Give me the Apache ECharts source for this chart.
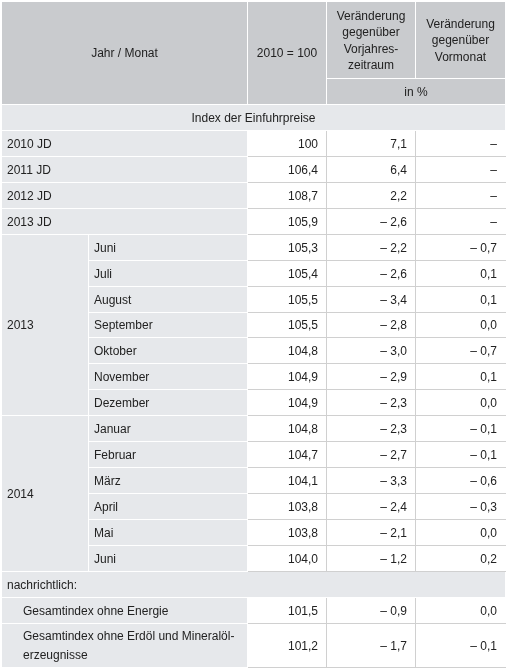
<!DOCTYPE html>
<html><head><meta charset="utf-8">
<script src="https://cdn.jsdelivr.net/npm/echarts@6/dist/echarts.min.js"></script>
<style>html,body{margin:0;padding:0;background:#fff}#c{width:509px;height:668px}</style>
</head><body><div id="c"></div>
<script>
// ---- data ----
const headerCol0 = 'Jahr / Monat';
const headerCol1 = '2010 = 100';
const headerCol2 = 'Veränderung\ngegenüber\nVorjahres-\nzeitraum';
const headerCol3 = 'Veränderung\ngegenüber\nVormonat';
const headerUnit = 'in %';
const sectionTitle = 'Index der Einfuhrpreise';

const annualLabels = ['2010 JD', '2011 JD', '2012 JD', '2013 JD'];
const annualIndex = [100, 106.4, 108.7, 105.9];
const annualYoY = [7.1, 6.4, 2.2, -2.6];
const annualMoM = [null, null, null, null];

const block1Year = '2013';
const block1Months = ['Juni', 'Juli', 'August', 'September', 'Oktober', 'November', 'Dezember'];
const block1Index = [105.3, 105.4, 105.5, 105.5, 104.8, 104.9, 104.9];
const block1YoY = [-2.2, -2.6, -3.4, -2.8, -3.0, -2.9, -2.3];
const block1MoM = [-0.7, 0.1, 0.1, 0.0, -0.7, 0.1, 0.0];

const block2Year = '2014';
const block2Months = ['Januar', 'Februar', 'März', 'April', 'Mai', 'Juni'];
const block2Index = [104.8, 104.7, 104.1, 103.8, 103.8, 104.0];
const block2YoY = [-2.3, -2.7, -3.3, -2.4, -2.1, -1.2];
const block2MoM = [-0.1, -0.1, -0.6, -0.3, 0.0, 0.2];

const memoTitle = 'nachrichtlich:';
const memoLabels = ['Gesamtindex ohne Energie', 'Gesamtindex ohne Erdöl und Mineralöl-\nerzeugnisse'];
const memoIndex = [101.5, 101.2];
const memoYoY = [-0.9, -1.7];
const memoMoM = [0.0, -0.1];

// ---- layout ----
const colEdges = [0, 87, 246, 325, 414, 504];
const UNIT = 26;
const H1 = 77 / UNIT;
const LAST_H = 44 / UNIT;
const HEAD_BG = '#c9cbce', LABEL_BG = '#e6e8eb', LINE = '#d0d0d0', TEXT = '#222222';
const FONT = '12px "Liberation Sans", Arial, Helvetica, sans-serif';

function fmt(v) {
  if (v === null || v === undefined) return '–';
  const s = Math.abs(v).toFixed(1).replace('.', ',');
  return v < 0 ? '– ' + s : s;
}
function fmtIndex(v) { return v === 100 ? '100' : fmt(v); }

const grayCells = [], whiteCells = [];
function cell(c0, c1, y0, y1, kind, text, align, pad, lh) {
  const o = { x0: colEdges[c0], x1: colEdges[c1], y0, y1, kind, text, align: align || 'left', pad: pad == null ? 5 : pad, lh: lh || 14 };
  (kind === 'white' ? whiteCells : grayCells).push(o);
}

// header
cell(0, 2, 0, H1 + 1, 'head', headerCol0, 'center');
cell(2, 3, 0, H1 + 1, 'head', headerCol1, 'center');
cell(3, 4, 0, H1, 'head', headerCol2, 'center', 0, 16.5);
cell(4, 5, 0, H1, 'head', headerCol3, 'center', 0, 16.5);
cell(3, 5, H1, H1 + 1, 'head', headerUnit, 'center');
cell(0, 5, H1 + 1, H1 + 2, 'label', sectionTitle, 'center');

let r = H1 + 2;
function valueCells(row, h, idx, yoy, mom) {
  cell(2, 3, row, row + h, 'white', fmtIndex(idx), 'right', 9);
  cell(3, 4, row, row + h, 'white', fmt(yoy), 'right', 9);
  cell(4, 5, row, row + h, 'white', fmt(mom), 'right', 9);
}
annualLabels.forEach((lab, i) => {
  cell(0, 2, r, r + 1, 'label', lab, 'left', 5);
  valueCells(r, 1, annualIndex[i], annualYoY[i], annualMoM[i]);
  r += 1;
});
function block(year, months, idx, yoy, mom) {
  cell(0, 1, r, r + months.length, 'label', year, 'left', 5);
  months.forEach((m, i) => {
    cell(1, 2, r, r + 1, 'label', m, 'left', 5);
    valueCells(r, 1, idx[i], yoy[i], mom[i]);
    r += 1;
  });
}
block(block1Year, block1Months, block1Index, block1YoY, block1MoM);
block(block2Year, block2Months, block2Index, block2YoY, block2MoM);
cell(0, 5, r, r + 1, 'label', memoTitle, 'left', 5);
r += 1;
memoLabels.forEach((lab, i) => {
  const h = i === memoLabels.length - 1 ? LAST_H : 1;
  cell(0, 2, r, r + h, 'label', lab, 'left', 21, 19);
  valueCells(r, h, memoIndex[i], memoYoY[i], memoMoM[i]);
  r += h;
});
const yMax = r;
const cells = grayCells.concat(whiteCells);

const chart = echarts.init(document.getElementById('c'), null, { renderer: 'canvas' });
chart.setOption({
  animation: false,
  grid: { left: 2, top: 2, width: 504, height: yMax * UNIT },
  xAxis: { type: 'value', min: 0, max: 504, show: false },
  yAxis: { type: 'value', min: 0, max: yMax, inverse: true, show: false },
  series: [{
    type: 'custom',
    silent: true,
    clip: false,
    data: cells.map((c, i) => [c.x0, c.y0, c.x1, c.y1, i]),
    encode: { x: [0, 2], y: [1, 3] },
    renderItem: function (params, api) {
      const c = cells[api.value(4)];
      const p0 = api.coord([c.x0, c.y0]);
      const p1 = api.coord([c.x1, c.y1]);
      const x0 = Math.round(p0[0]), y0 = Math.round(p0[1]);
      const x1 = Math.round(p1[0]), y1 = Math.round(p1[1]);
      const children = [];
      if (c.kind === 'white') {
        children.push({ type: 'rect', shape: { x: x0, y: y0, width: x1 - x0, height: y1 - y0 }, style: { fill: '#ffffff' } });
        children.push({ type: 'line', shape: { x1: x0, y1: y1 - 0.5, x2: x1, y2: y1 - 0.5 }, style: { stroke: LINE, lineWidth: 1 } });
        if (c.x1 < 504) children.push({ type: 'line', shape: { x1: x1 - 0.5, y1: y0, x2: x1 - 0.5, y2: y1 }, style: { stroke: LINE, lineWidth: 1 } });
      } else {
        children.push({ type: 'rect', shape: { x: x0, y: y0, width: x1 - x0 - 1, height: y1 - y0 - 1 }, style: { fill: c.kind === 'head' ? HEAD_BG : LABEL_BG } });
      }
      let tx;
      if (c.align === 'left') tx = x0 + c.pad;
      else if (c.align === 'right') tx = x1 - c.pad;
      else tx = (x0 + x1 - 1) / 2;
      const ty = (y0 + y1) / 2 + 0.5;
      children.push({ type: 'text', style: { text: c.text, x: tx, y: ty, align: c.align, verticalAlign: 'middle', fill: TEXT, font: FONT, lineHeight: c.lh } });
      return { type: 'group', children };
    }
  }]
});
</script>
</body></html>
